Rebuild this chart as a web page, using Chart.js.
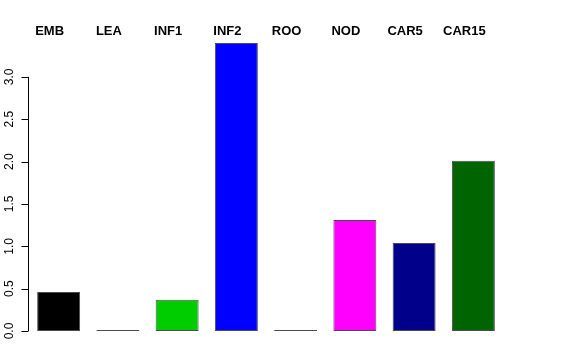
<!DOCTYPE html>
<html>
<head>
<meta charset="utf-8">
<script src="https://cdn.jsdelivr.net/npm/chart.js@4/dist/chart.umd.min.js"></script>
<style>
  html, body { margin: 0; padding: 0; background: #fff; }
  #wrap { width: 576px; height: 360px; }
</style>
</head>
<body>
<div id="wrap"><canvas id="chart" width="576" height="360"></canvas></div>
<script>
// bar data
const categories = ['EMB', 'LEA', 'INF1', 'INF2', 'ROO', 'NOD', 'CAR5', 'CAR15'];
const values = [0.46, 0, 0.37, 3.40, 0, 1.31, 1.04, 2.01];
const barColors = ['#000000', '#333333', '#00CD00', '#0000FF', '#333333', '#FF00FF', '#00008B', '#006400'];
const yTicks = [0, 0.5, 1.0, 1.5, 2.0, 2.5, 3.0];

// R-style left axis: line only spans the tick range, labels turned 90 degrees
const leftAxis = {
    id: 'leftAxis',
    afterDraw(chart) {
        const ctx = chart.ctx;
        const y = chart.scales.y;
        const axisX = chart.chartArea.left;
        ctx.save();
        ctx.strokeStyle = '#000';
        ctx.lineWidth = 1;
        ctx.beginPath();
        ctx.moveTo(axisX - 0.5, y.getPixelForValue(yTicks[0]));
        ctx.lineTo(axisX - 0.5, y.getPixelForValue(yTicks[yTicks.length - 1]));
        yTicks.forEach(v => {
            const py = Math.round(y.getPixelForValue(v)) + 0.5;
            ctx.moveTo(axisX - 0.5, py);
            ctx.lineTo(axisX - 7.5, py);
        });
        ctx.stroke();

        ctx.fillStyle = '#000';
        ctx.font = '12px "Liberation Sans", Arial, sans-serif';
        ctx.textAlign = 'center';
        ctx.textBaseline = 'alphabetic';
        yTicks.forEach(v => {
            ctx.save();
            ctx.translate(13, y.getPixelForValue(v));
            ctx.rotate(-Math.PI / 2);
            ctx.fillText(v.toFixed(1), 0, 0);
            ctx.restore();
        });
        ctx.restore();
    }
};

new Chart(document.getElementById('chart'), {
    type: 'bar',
    data: {
        labels: categories,
        datasets: [{
            data: values,
            backgroundColor: barColors,
            borderColor: 'rgba(0,0,0,0.7)',
            borderWidth: 1,
            borderSkipped: false,
            minBarLength: 1,
            categoryPercentage: 1.0,
            barPercentage: 0.725
        }]
    },
    options: {
        responsive: false,
        animation: false,
        events: [],
        layout: {
            padding: { left: 29, right: 73, top: 0, bottom: 29 }
        },
        plugins: {
            legend: { display: false },
            tooltip: { enabled: false }
        },
        scales: {
            x: {
                position: 'top',
                offset: true,
                grid: { display: false },
                border: { display: false },
                ticks: {
                    color: '#000',
                    font: { family: '"Liberation Sans", Arial, sans-serif', size: 13, weight: 'bold' },
                    labelOffset: -9,
                    padding: -4,
                    maxRotation: 0,
                    autoSkip: false
                },
                afterFit(scale) { scale.height = 43; }
            },
            y: {
                display: false,
                min: 0,
                max: 3.4
            }
        }
    },
    plugins: [leftAxis]
});
</script>
</body>
</html>
